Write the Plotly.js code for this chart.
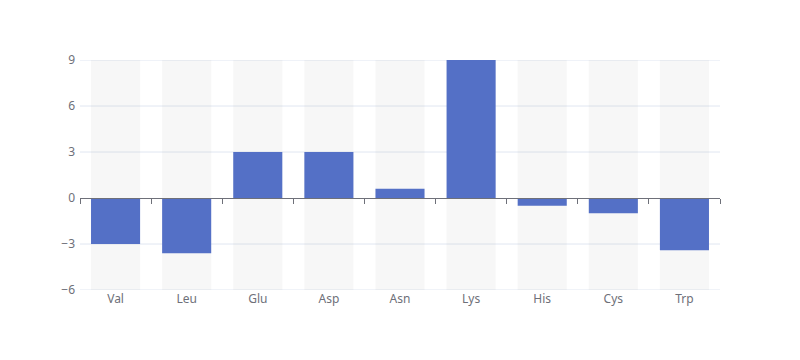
<!DOCTYPE html>
<html><head><meta charset="utf-8">
<script src="https://cdn.plot.ly/plotly-3.0.1.min.js"></script>
<style>html,body{margin:0;padding:0;background:#fff}#c{width:800px;height:360px}</style>
</head><body><div id="c"></div>
<script>
const categories = ['Val','Leu','Glu','Asp','Asn','Lys','His','Cys','Trp'];
const values = [-3, -3.6, 3, 3, 0.6, 9, -0.5, -1, -3.4];
const yRange = [-6, 9];
const yTicks = [-6, -3, 0, 3, 6, 9];

const idx = categories.map((_, i) => i);
const bgTrace = {
  type: 'bar', x: idx, y: categories.map(() => yRange[1] - yRange[0]),
  base: categories.map(() => yRange[0]),
  marker: {color: 'rgba(180,180,180,0.1)'}, hoverinfo: 'skip', showlegend: false
};
const barTrace = {
  type: 'bar', x: idx, y: values,
  marker: {color: '#5470c6', line: {width: 0}}, showlegend: false
};
const boundaryTicks = [];
for (let i = 0; i <= categories.length; i++) boundaryTicks.push(i - 0.5);
const axisTrace = {type: 'scatter', x: [], y: [], xaxis: 'x2', yaxis: 'y', showlegend: false};

const gridShapes = yTicks.filter(v => v !== 0).map(v => ({
  type: 'line', xref: 'paper', yref: 'y', x0: 0, x1: 1, y0: v, y1: v,
  line: {color: '#E0E6F1', width: 1}, layer: 'below'
}));

const font = {family: 'Noto Sans, DejaVu Sans, sans-serif', size: 12, color: '#6E7079'};
const layout = {
  width: 800, height: 360,
  margin: {l: 80, r: 80, t: 60, b: 70},
  paper_bgcolor: '#fff', plot_bgcolor: '#fff',
  barmode: 'overlay', bargap: 0.31,
  font: font,
  shapes: gridShapes,
  xaxis: {
    type: 'linear', range: [-0.5, categories.length - 0.5],
    tickvals: idx, ticktext: categories, showgrid: false, zeroline: false,
    showline: false, ticks: '', tickfont: font, fixedrange: true
  },
  xaxis2: {
    type: 'linear', range: [-0.5, categories.length - 0.5], overlaying: 'x',
    anchor: 'free', position: (0 - yRange[0]) / (yRange[1] - yRange[0]),
    tickvals: boundaryTicks, showticklabels: false, ticks: 'outside', ticklen: 5,
    tickcolor: '#6E7079', showline: true, linecolor: '#6E7079', linewidth: 1,
    showgrid: false, zeroline: false
  },
  yaxis: {
    range: yRange, tickvals: yTicks, showgrid: false,
    zeroline: false, showline: false, ticks: '', tickfont: font, ticklabelstandoff: 4
  }
};
Plotly.newPlot('c', [bgTrace, barTrace, axisTrace], layout, {displayModeBar: false, staticPlot: true});
</script></body></html>
